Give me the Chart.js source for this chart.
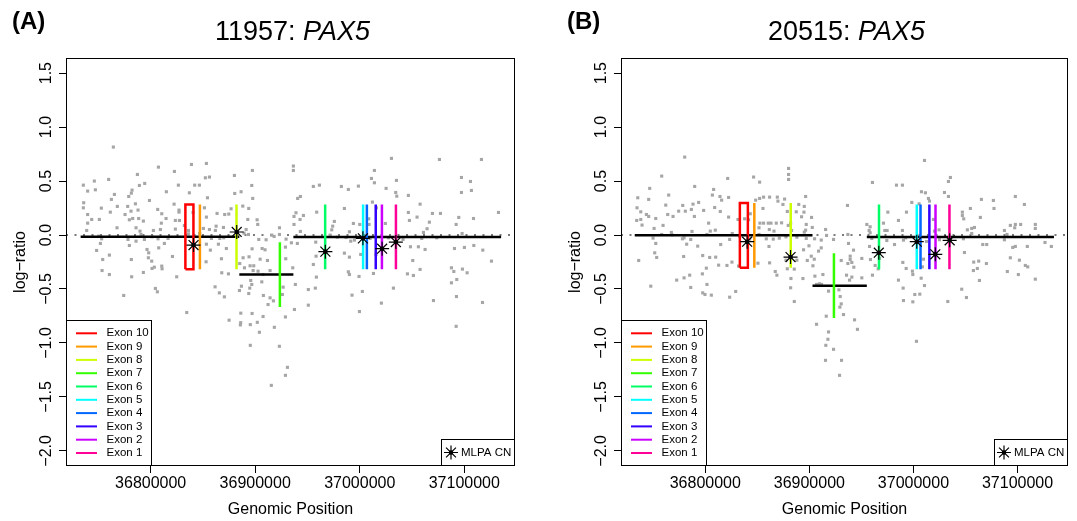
<!DOCTYPE html>
<html>
<head>
<meta charset="utf-8">
<script src="https://cdn.jsdelivr.net/npm/chart.js@4.4.1/dist/chart.umd.min.js"></script>
<style>
  body { margin: 0; background: #fff; width: 1077px; height: 521px; position: relative; overflow: hidden;
         font-family: "Liberation Sans", Arial, sans-serif; color: #000; }
  canvas { position: absolute; top: 0; }
  .tag { position: absolute; top: 7px; font-size: 24px; font-weight: bold; z-index: 2; }
  .title { position: absolute; top: 16px; font-size: 27px; line-height: 30px; text-align: center; z-index: 2; }
</style>
</head>
<body>
<div class="tag" style="left:12px">(A)</div>
<div class="title" style="left:68px;width:449px">11957: <i>PAX5</i></div>
<div class="tag" style="left:567px">(B)</div>
<div class="title" style="left:623px;width:447px">20515: <i>PAX5</i></div>
<canvas id="chartA" width="538" height="521" style="left:0"></canvas>
<canvas id="chartB" width="522" height="521" style="left:555px"></canvas>
<script>
// axis ticks (genomic position in bp, log-ratio)
const xTicks = [36800000, 36900000, 37000000, 37100000];
const yTicks = [-2.0, -1.5, -1.0, -0.5, 0.0, 0.5, 1.0, 1.5];

// exons of PAX5, positions in kb
const exonNames = ['Exon 10', 'Exon 9', 'Exon 8', 'Exon 7', 'Exon 6', 'Exon 5', 'Exon 4', 'Exon 3', 'Exon 2', 'Exon 1'];
const exonColors = ['#FF0000', '#FF9900', '#CCFF00', '#33FF00', '#00FF66', '#00FFFF', '#0066FF', '#3300FF', '#CC00FF', '#FF0099'];
const exonStart = [36833.2, 36847.1, 36882.1, 36923.6, 36966.9, 37003.2, 37006.8, 37015.3, 37021.2, 37034.6];
const exonEnd   = [36840.9, 36847.1, 36882.1, 36923.6, 36966.9, 37003.2, 37006.8, 37015.3, 37021.2, 37034.6];
const exonHalf = 0.3;

// probe log-ratios, sample 11957: [position kb, log-ratio]
const probesA = [
  [36764.3,0.815],[36807.4,0.629],[36839.0,0.654],[36853.3,0.663],[36787.3,0.561],[36822.7,0.589],[36759.8,0.515],[36746.1,0.500],[36735.6,0.462],[36794.3,0.478],
  [36789.2,0.459],[36826.5,0.462],[36842.1,0.462],[36846.6,0.462],[36852.3,0.530],[36856.2,0.537],[36739.7,0.407],[36747.1,0.419],[36765.3,0.376],[36782.2,0.416],
  [36781.5,0.388],[36815.0,0.401],[36837.0,0.391],[36854.3,0.345],[36880.4,0.385],[36886.5,0.401],[36897.3,0.598],[36880.1,0.552],[36896.7,0.459],[36735.9,0.299],
  [36735.6,0.252],[36762.4,0.330],[36779.0,0.357],[36798.8,0.320],[36785.4,0.289],[36768.1,0.265],[36778.0,0.265],[36822.4,0.286],[36827.1,0.231],[36827.1,0.212],
  [36806.7,0.237],[36810.6,0.197],[36787.9,0.231],[36781.2,0.221],[36761.4,0.212],[36752.8,0.249],[36897.6,0.339],[36888.1,0.268],[36893.8,0.246],[36876.9,0.243],
  [36870.8,0.190],[36863.5,0.200],[36851.4,0.252],[36840.5,0.209],[36739.7,0.190],[36743.6,0.144],[36750.9,0.144],[36775.5,0.190],[36782.8,0.153],[36788.5,0.153],
  [36779.6,0.141],[36793.0,0.129],[36814.7,0.153],[36810.2,0.110],[36823.6,0.135],[36827.5,0.135],[36853.3,0.166],[36862.6,0.082],[36874.7,0.194],[36869.6,0.070],
  [36901.8,0.141],[36902.4,0.098],[36923.2,0.067],[36892.9,0.144],[36739.7,0.110],[36738.8,0.042],[36767.8,0.067],[36789.8,0.036],[36786.0,0.067],[36802.6,0.042],
  [36809.3,0.051],[36823.6,0.055],[36832.2,0.088],[36836.1,0.042],[36850.4,0.061],[36856.2,0.051],[36861.9,0.042],[36891.3,0.051],[36893.5,0.005],[36750.3,-0.010],
  [36753.1,-0.035],[36778.3,-0.041],[36786.0,-0.057],[36790.8,0.005],[36801.3,-0.017],[36794.0,-0.041],[36807.0,-0.035],[36816.6,-0.032],[36836.1,0.011],[36846.9,0.014],
  [36858.1,-0.032],[36866.1,-0.032],[36869.9,-0.026],[36889.3,0.017],[36903.4,-0.041],[36910.4,-0.044],[36918.1,-0.013],[36929.5,-0.038],[36923.2,0.005],[36915.8,-0.001],
  [36751.9,-0.078],[36779.6,-0.097],[36813.1,-0.078],[36796.5,-0.134],[36807.7,-0.119],[36853.3,-0.085],[36857.1,-0.140],[36864.8,-0.085],[36872.4,-0.125],[36897.0,-0.128],
  [36906.6,-0.125],[36909.4,-0.137],[36928.9,-0.112],[36748.3,-0.143],[36760.5,-0.186],[36798.1,-0.165],[36820.8,-0.199],[36797.8,-0.211],[36781.5,-0.227],[36754.1,-0.227],
  [36801.0,-0.242],[36853.0,-0.248],[36867.7,-0.220],[36885.2,-0.264],[36888.4,-0.211],[36894.1,-0.202],[36904.7,-0.224],[36911.7,-0.236],[36929.2,-0.220],[36753.5,-0.329],
  [36760.5,-0.366],[36781.8,-0.387],[36793.0,-0.347],[36801.3,-0.310],[36803.5,-0.298],[36810.6,-0.288],[36810.9,-0.313],[36824.9,-0.387],[36868.0,-0.350],[36874.4,-0.360],
  [36889.7,-0.304],[36895.1,-0.285],[36898.6,-0.285],[36898.0,-0.329],[36902.7,-0.335],[36907.5,-0.366],[36914.2,-0.329],[36804.5,-0.495],[36806.4,-0.526],[36774.2,-0.560],
  [36861.6,-0.480],[36865.7,-0.536],[36870.5,-0.573],[36884.9,-0.514],[36886.8,-0.474],[36893.8,-0.542],[36894.8,-0.492],[36895.7,-0.421],[36896.7,-0.458],[36906.3,-0.434],
  [36907.8,-0.560],[36914.2,-0.582],[36926.0,-0.551],[36926.7,-0.483],[36834.5,-0.718],[36875.0,-0.789],[36886.2,-0.724],[36897.0,-0.727],[36907.5,-0.755],[36912.3,-0.644],
  [36917.4,-0.610],[36928.9,-0.759],
  [36936.5,0.639],[36936.5,0.598],[36955.6,0.450],[36961.4,0.462],[36982.4,0.450],[36989.1,0.422],[36998.7,0.453],[37014.0,0.598],[37011.2,0.524],[37014.0,0.484],
  [37030.3,0.710],[37035.1,0.506],[37076.2,0.700],[37116.4,0.700],[37097.3,0.533],[37105.9,0.496],[37097.3,0.394],[37106.8,0.413],[36940.6,0.339],[36943.2,0.357],
  [36958.8,0.212],[36939.0,0.206],[36946.1,0.181],[36937.1,0.172],[36942.9,0.144],[36937.1,0.098],[36943.2,0.033],[36985.3,0.246],[36975.7,0.126],[36974.1,0.082],
  [36973.2,0.048],[36993.9,0.107],[37000.0,0.098],[37012.1,0.305],[37015.9,0.252],[37008.6,0.150],[37008.9,0.098],[37025.2,0.432],[37024.5,0.107],[37034.4,0.394],
  [37035.4,0.360],[37046.5,0.367],[37057.7,0.286],[37046.5,0.209],[37047.5,0.135],[37054.8,0.166],[37069.5,0.200],[37077.2,0.200],[37066.6,0.119],[37064.4,0.058],
  [37060.9,0.024],[37094.7,0.163],[37092.2,0.098],[37097.9,0.014],[37108.8,0.153],[37132.7,0.209],[36934.6,-0.072],[36940.3,-0.078],[36957.9,-0.066],[36971.6,-0.001],
  [36978.6,-0.020],[36986.9,-0.023],[36990.1,0.030],[36991.4,-0.057],[36994.9,-0.047],[37009.9,-0.032],[37027.4,-0.026],[37041.4,-0.041],[37048.5,-0.109],[37056.1,-0.109],
  [37062.5,-0.134],[37059.3,-0.032],[37073.7,-0.026],[37090.6,-0.125],[37100.1,-0.115],[37109.1,-0.097],[37117.7,-0.140],[37126.0,-0.242],[36958.2,-0.196],[36955.6,-0.273],
  [36985.3,-0.168],[36990.1,-0.205],[37000.9,-0.180],[37015.6,-0.180],[37050.7,-0.236],[36935.9,-0.304],[36958.5,-0.390],[36938.4,-0.458],[36989.1,-0.341],[36990.1,-0.366],
  [36999.3,-0.384],[37013.1,-0.356],[37045.6,-0.360],[37051.3,-0.375],[37057.7,-0.319],[37087.7,-0.304],[37090.0,-0.338],[37098.2,-0.316],[37102.7,-0.350],[37092.8,-0.412],
  [37087.7,-0.443],[36950.8,-0.505],[36957.5,-0.492],[36992.6,-0.557],[37002.5,-0.523],[37032.2,-0.492],[37070.5,-0.607],[37092.5,-0.570],[36937.5,-0.690],[36950.8,-0.650],
  [36999.7,-0.709],[37020.7,-0.631],[37117.4,-0.625],
  [36886.1,-0.812],[36885.8,-0.833],[36895.3,-0.830],[36902.0,-0.809],[36904.0,-0.901],[36918.3,-0.855],[37092.2,-0.846],[36895.3,-1.022],[36923.1,-1.031],[36930.8,-1.226],
  [36928.9,-1.300],[36915.4,-1.393]
];

// probe log-ratios, sample 20515: [position kb, log-ratio]
const probesB = [
  [36780.2,0.722],[36758.1,0.546],[36821.5,0.524],[36846.4,0.537],[36852.2,0.490],[36880.0,0.617],[36880.0,0.561],[36880.0,0.515],[36789.8,0.450],[36746.6,0.432],
  [36764.8,0.370],[36808.0,0.422],[36806.8,0.370],[36814.1,0.357],[36822.4,0.348],[36735.1,0.345],[36745.6,0.330],[36734.4,0.252],[36738.0,0.215],[36743.4,0.190],
  [36745.6,0.172],[36752.4,0.153],[36734.1,0.135],[36738.0,0.144],[36739.2,0.092],[36750.8,0.061],[36759.4,0.089],[36762.0,0.277],[36763.9,0.190],[36769.0,0.172],
  [36774.4,0.221],[36778.3,0.274],[36780.8,0.221],[36786.6,0.237],[36788.2,0.286],[36793.6,0.302],[36789.5,0.172],[36798.4,0.228],[36803.2,0.110],[36809.0,0.255],
  [36814.4,0.218],[36815.7,0.323],[36822.4,0.166],[36831.4,0.144],[36837.8,0.150],[36848.4,0.323],[36852.2,0.339],[36855.4,0.246],[36856.0,0.351],[36861.8,0.351],
  [36869.2,0.351],[36869.8,0.314],[36874.6,0.283],[36876.2,0.333],[36889.8,0.283],[36896.4,0.357],[36895.1,0.265],[36894.8,0.212],[36902.1,0.163],[36892.5,0.169],
  [36887.4,0.215],[36878.8,0.218],[36843.2,0.197],[36841.6,0.141],[36852.5,0.110],[36856.0,0.110],[36860.5,0.110],[36863.1,0.110],[36868.2,0.110],[36873.3,0.113],
  [36879.7,0.089],[36882.0,0.110],[36861.5,0.051],[36851.6,0.067],[36866.0,0.036],[36882.9,0.042],[36897.0,0.098],[36896.4,0.045],[36895.1,0.027],[36902.8,0.070],
  [36915.6,0.051],[36916.5,-0.004],[36749.8,-0.029],[36752.4,-0.078],[36758.1,0.005],[36767.4,0.024],[36768.0,0.002],[36778.0,-0.035],[36779.6,-0.026],[36782.1,-0.085],
  [36787.2,0.033],[36786.0,-0.041],[36792.7,-0.103],[36801.6,0.005],[36804.8,0.036],[36809.6,0.045],[36823.4,-0.041],[36825.9,0.014],[36833.0,-0.013],[36842.6,-0.038],
  [36851.6,0.005],[36858.6,-0.035],[36861.2,-0.106],[36865.3,-0.038],[36871.1,-0.029],[36877.5,-0.017],[36888.0,-0.020],[36897.0,-0.032],[36905.0,-0.035],[36911.4,-0.047],
  [36923.2,-0.041],[36899.6,-0.100],[36894.4,-0.137],[36901.8,-0.196],[36898.0,-0.236],[36908.8,-0.149],[36911.4,-0.119],[36751.4,-0.165],[36753.3,-0.208],[36736.0,-0.236],
  [36779.2,-0.199],[36797.5,-0.190],[36804.2,-0.208],[36810.0,-0.205],[36812.8,-0.279],[36820.8,-0.282],[36825.6,-0.251],[36814.8,-0.088],[36850.6,-0.261],[36832.0,-0.288],
  [36861.8,-0.258],[36867.2,-0.338],[36868.8,-0.372],[36877.5,-0.233],[36878.8,-0.313],[36885.5,-0.316],[36882.3,-0.403],[36888.0,-0.233],[36893.8,-0.403],[36904.7,-0.224],
  [36903.4,-0.285],[36905.3,-0.381],[36913.0,-0.366],[36930.6,-0.236],[36747.6,-0.474],[36772.5,-0.418],[36779.6,-0.397],[36785.0,-0.372],[36797.2,-0.360],[36801.0,-0.307],
  [36786.0,-0.486],[36801.6,-0.458],[36797.5,-0.536],[36805.8,-0.557],[36799.7,-0.551],[36823.4,-0.576],[36829.2,-0.523],[36882.0,-0.489],[36885.5,-0.616],[36909.8,-0.452],
  [36906.9,-0.458],[36911.7,-0.458],[36918.4,-0.520],[36928.4,-0.508],[36929.6,-0.570],[36930.6,-0.638],[36929.3,-0.668],[36932.8,-0.737],[36916.2,-0.752],
  [37010.6,0.691],[37035.5,0.533],[37033.6,0.496],[36960.6,0.487],[36983.7,0.462],[36989.4,0.462],[37007.7,0.401],[37011.5,0.391],[37029.8,0.394],[37033.6,0.357],
  [37014.4,0.339],[37015.4,0.314],[36998.4,0.302],[37005.4,0.289],[37065.3,0.330],[37076.8,0.320],[37097.9,0.357],[37106.6,0.283],[37077.4,0.246],[37054.7,0.246],
  [37047.0,0.212],[37047.0,0.181],[37048.3,0.150],[37064.3,0.163],[36975.4,0.212],[36993.3,0.212],[36985.6,0.135],[36971.2,0.110],[36936.6,0.274],[36955.2,0.098],
  [36958.4,0.076],[36957.4,0.042],[36958.4,0.021],[36972.5,0.042],[36974.7,0.042],[36989.4,0.042],[37019.2,0.144],[37020.2,0.036],[37024.6,0.048],[37051.8,0.048],
  [37056.0,0.061],[37058.6,0.070],[37056.0,0.014],[37093.1,0.089],[37097.9,0.098],[37103.0,0.098],[37097.3,0.067],[37117.1,0.098],[37117.1,0.061],[37087.4,0.042],
  [37089.9,0.005],[37087.4,-0.044],[37126.4,-0.069],[37132.5,-0.106],[36937.0,0.005],[36937.6,-0.078],[36942.4,-0.140],[36957.8,-0.106],[36960.0,-0.032],[36974.4,-0.051],
  [36981.8,-0.088],[36990.4,-0.047],[36992.6,-0.026],[37012.5,-0.060],[37025.0,-0.044],[37048.0,-0.035],[37066.6,-0.088],[37070.4,-0.088],[37095.4,-0.115],[37097.9,-0.106],
  [37109.4,-0.106],[37049.0,-0.162],[36939.2,-0.196],[36939.2,-0.227],[36937.0,-0.264],[36940.8,-0.254],[36942.7,-0.298],[36950.4,-0.217],[36958.7,-0.227],[36967.4,-0.217],
  [36963.2,-0.282],[36966.1,-0.313],[36989.8,-0.254],[36993.0,-0.310],[36999.0,-0.335],[36999.4,-0.366],[37009.6,-0.224],[37008.6,-0.295],[37057.9,-0.251],[37062.7,-0.242],
  [37061.4,-0.310],[37057.6,-0.329],[37070.1,-0.264],[37093.1,-0.211],[37101.8,-0.233],[37107.5,-0.282],[37109.8,-0.295],[37090.2,-0.338],[37100.8,-0.366],[37117.1,-0.409],
  [36935.7,-0.372],[36938.6,-0.418],[36940.8,-0.390],[36950.4,-0.397],[36960.6,-0.372],[36985.6,-0.418],[36990.1,-0.492],[37007.4,-0.400],[37010.6,-0.468],[37001.3,-0.551],
  [37006.1,-0.548],[36990.4,-0.607],[36999.4,-0.619],[37033.0,-0.616],[37046.4,-0.502],[37050.9,-0.579],[37063.4,-0.421],[36943.4,-0.786],
  [36906.9,-0.827],[36918.4,-0.898],[36917.8,-0.966],[36915.8,-1.022],[36923.2,-1.059],[36915.5,-1.161],[36930.9,-1.161],[36929.0,-1.300],[36946.2,-0.874],[37002.9,-0.985]
];

// segmentation: [start kb, end kb, mean log-ratio]
const segmentsA = [[36733.0, 36884.8, -0.017], [36884.8, 36936.5, -0.366], [36936.5, 37135.2, -0.018]];
const segmentsB = [[36732.2, 36903.0, -0.003], [36903.0, 36955.2, -0.469], [36955.2, 37135.0, -0.018]];

// MLPA copy number calls: [position kb, log-ratio]
const mlpaA = [[36841.0, -0.093], [36882.3, 0.028], [36967.1, -0.154], [37003.0, -0.031], [37021.4, -0.127], [37034.5, -0.065]];
const mlpaB = [[36840.2, -0.062], [36881.9, -0.204], [36966.7, -0.164], [37003.2, -0.062], [37021.0, -0.179], [37034.8, -0.049]];

const xMin = 36719000, xMax = 37148500;
const yMin = -2.14, yMax = 1.64;
const fontFamily = '"Liberation Sans", Arial, Helvetica, sans-serif';

Chart.defaults.font.family = fontFamily;
Chart.defaults.color = '#000';

function segMean(segs, kb) {
  for (const s of segs) {
    if (kb >= s[0] && kb <= s[1]) return s[2];
  }
  return 0;
}

function buildDatasets(probes, segs, mlpa) {
  const ds = [];
  // dotted zero line
  ds.push({ data: [{ x: xMin, y: 0 }, { x: xMax, y: 0 }], showLine: true, borderColor: '#7a7a7a',
            borderWidth: 2, borderDash: [2, 6.5], pointRadius: 0 });
  ds.push({ data: probes.map(p => ({ x: p[0] * 1000, y: p[1] })), pointStyle: 'rect', pointRadius: 2.2,
            backgroundColor: '#a6a6a6', borderWidth: 0 });
  segs.forEach(s => {
    ds.push({ data: [{ x: s[0] * 1000, y: s[2] }, { x: s[1] * 1000, y: s[2] }], showLine: true,
              borderColor: '#000', borderWidth: 2.5, pointRadius: 0 });
  });
  exonNames.forEach((name, i) => {
    const m = segMean(segs, (exonStart[i] + exonEnd[i]) / 2);
    const x1 = exonStart[i] * 1000, x2 = exonEnd[i] * 1000;
    const lo = m - exonHalf, hi = m + exonHalf;
    ds.push({ data: [{ x: x1, y: lo }, { x: x2, y: lo }, { x: x2, y: hi }, { x: x1, y: hi }, { x: x1, y: lo }],
              showLine: true, borderColor: exonColors[i], borderWidth: 2.5, borderJoinStyle: 'miter', pointRadius: 0 });
  });
  ds.push({ data: mlpa.map(p => ({ x: p[0] * 1000, y: p[1] })), pointStyle: 'star', pointRadius: 7,
            borderColor: '#000', backgroundColor: '#000', borderWidth: 1.2 });
  ds.push({ data: mlpa.map(p => ({ x: p[0] * 1000, y: p[1] })), pointStyle: 'circle', pointRadius: 2.3,
            backgroundColor: '#000', borderWidth: 0 });
  // first dataset is painted last in Chart.js
  return ds.reverse();
}

function drawStar(ctx, x, y, r) {
  ctx.beginPath();
  ctx.moveTo(x - r, y); ctx.lineTo(x + r, y);
  ctx.moveTo(x, y - r); ctx.lineTo(x, y + r);
  const d = r * Math.SQRT1_2;
  ctx.moveTo(x - d, y - d); ctx.lineTo(x + d, y + d);
  ctx.moveTo(x - d, y + d); ctx.lineTo(x + d, y - d);
  ctx.stroke();
  ctx.beginPath(); ctx.arc(x, y, 2.3, 0, Math.PI * 2); ctx.fill();
}

const framePlugin = {
  id: 'frame',
  afterDraw(chart) {
    const { ctx, chartArea: a } = chart;
    ctx.save();
    ctx.strokeStyle = '#000';
    ctx.lineWidth = 1;
    ctx.strokeRect(a.left + 0.5, a.top + 0.5, a.right - a.left - 1, a.bottom - a.top - 1);

    // exon legend, bottom left
    const lw = 86, lh = 146;
    const lx = a.left, ly = a.bottom - lh;
    ctx.fillStyle = '#fff';
    ctx.fillRect(lx, ly, lw, lh);
    ctx.strokeRect(lx + 0.5, ly + 0.5, lw - 1, lh - 1);
    ctx.font = '11.5px ' + fontFamily;
    ctx.textBaseline = 'middle';
    ctx.textAlign = 'left';
    exonNames.forEach((name, i) => {
      const y = ly + 13.3 * (i + 1);
      ctx.strokeStyle = exonColors[i];
      ctx.lineWidth = 2;
      ctx.beginPath(); ctx.moveTo(lx + 10, y); ctx.lineTo(lx + 31, y); ctx.stroke();
      ctx.fillStyle = '#000';
      ctx.fillText(name, lx + 40.5, y);
    });

    // MLPA legend, bottom right
    const mw = 74, mh = 27;
    const mx = a.right - mw, my = a.bottom - mh;
    ctx.fillStyle = '#fff';
    ctx.fillRect(mx, my, mw, mh);
    ctx.strokeStyle = '#000';
    ctx.lineWidth = 1;
    ctx.strokeRect(mx + 0.5, my + 0.5, mw - 1, mh - 1);
    ctx.fillStyle = '#000';
    ctx.lineWidth = 1.2;
    drawStar(ctx, mx + 10, my + 13.5, 7);
    ctx.fillText('MLPA CN', mx + 20, my + 14);
    ctx.restore();
  }
};

function makePanel(id, probes, segs, mlpa, padRight) {
  const tickFont = { size: 16, family: fontFamily };
  return new Chart(document.getElementById(id), {
    type: 'scatter',
    data: { datasets: buildDatasets(probes, segs, mlpa) },
    options: {
      responsive: false,
      animation: false,
      events: [],
      layout: { padding: { top: 58, right: padRight, left: 0, bottom: 0 } },
      plugins: { legend: { display: false }, tooltip: { enabled: false } },
      scales: {
        x: {
          type: 'linear', min: xMin, max: xMax,
          afterBuildTicks: s => { s.ticks = xTicks.map(v => ({ value: v })); },
          afterFit: s => { s.height = 55; },
          grid: { display: true, drawOnChartArea: false, drawTicks: true, tickLength: 7, color: '#000' },
          border: { display: false },
          ticks: { color: '#000', font: tickFont, maxRotation: 0, autoSkip: false, padding: 1,
                   callback: v => String(v) },
          title: { display: true, text: 'Genomic Position', color: '#000', font: tickFont,
                   padding: { top: 0, bottom: 2 } }
        },
        y: {
          type: 'linear', min: yMin, max: yMax,
          afterBuildTicks: s => { s.ticks = yTicks.map(v => ({ value: v })); },
          afterFit: s => { s.width = 66; },
          grid: { display: true, drawOnChartArea: false, drawTicks: true, tickLength: 7, color: '#000' },
          border: { display: false },
          ticks: { color: '#000', font: tickFont, minRotation: 90, maxRotation: 90, autoSkip: false,
                   crossAlign: 'center', padding: -3,
                   callback: v => (v < 0 ? '\u2212' : '') + Math.abs(v).toFixed(1) },
          title: { display: true, text: 'log\u2212ratio', color: '#000', font: tickFont,
                   padding: { top: 11, bottom: 0 } }
        }
      }
    },
    plugins: [framePlugin]
  });
}

makePanel('chartA', probesA, segmentsA, mlpaA, 23);
makePanel('chartB', probesB, segmentsB, mlpaB, 9);
</script>
</body>
</html>
